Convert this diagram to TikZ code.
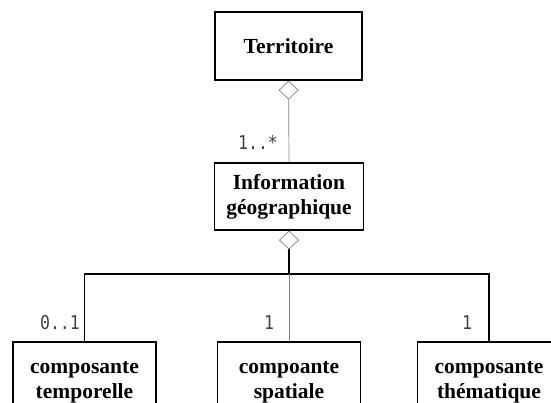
\documentclass[tikz,border=0pt]{standalone}
\usepackage{fontspec}
\setmainfont{Liberation Serif}
\newfontfamily\labfont[FakeStretch=0.87]{DejaVu Sans Mono}
\usetikzlibrary{arrows.meta}
\begin{document}
\begin{tikzpicture}[x=1pt,y=-1pt,
  cls/.style={draw=black, line width=1.2pt, fill=white, align=center, inner sep=0pt,
    font=\fontsize{21.5}{25}\selectfont\bfseries},
  mult/.style={font=\fontsize{19}{21}\selectfont\labfont, inner sep=0pt, text=black!75, anchor=base},
  thin/.style={draw=black!50, line width=0.7pt},
  bus/.style={draw=black, line width=1.1pt},
  agg/.style={{Diamond[open, fill=white, color=black!50, line width=0.7pt, length=19pt, width=20pt]}-}
]
\useasboundingbox (0,0) rectangle (551,403);
\fill[white] (0,0) rectangle (551,403);

\node[cls, minimum width=147pt, minimum height=68pt] (terr) at (288.5,46) {Territoire};
\node[cls, minimum width=149pt, minimum height=67pt] (info) at (289,196.5) {Information\\g\'eographique};

\node[cls, minimum width=143pt, minimum height=80pt] (tmp) at (84.5,382) {composante\\temporelle};
\node[cls, minimum width=143pt, minimum height=80pt] (spa) at (289,382) {compoante\\spatiale};
\node[cls, minimum width=143pt, minimum height=80pt] (the) at (489,382) {composante\\th\'ematique};

\coordinate (busc) at (289,274);

\draw[thin, agg] (terr.south) -- (info.north);
\draw[bus, agg] (info.south) -- (busc);
\draw[bus] (tmp.north) |- (busc) -| (the.north);
\draw[thin] (busc) -- (spa.north);

\node[mult] (m1) at (258,150) {1..*};
\node[mult] (m2) at (60,329) {0..1};
\node[mult] (m3) at (269,329) {1};
\node[mult] (m4) at (467,329) {1};
\end{tikzpicture}
\end{document}
